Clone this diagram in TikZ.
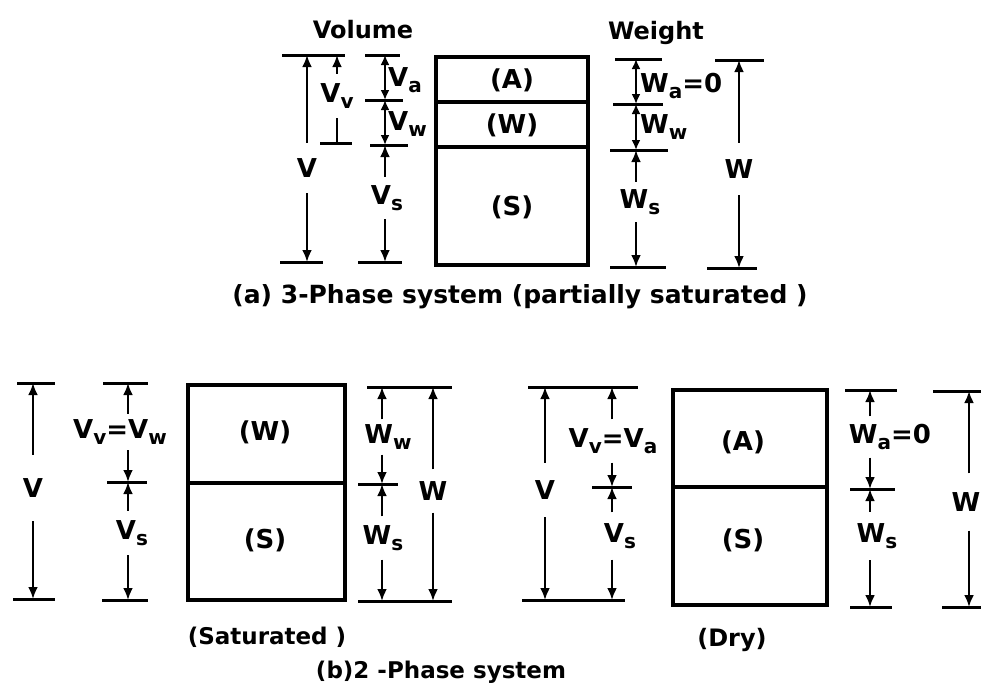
\documentclass[tikz,border=0pt]{standalone}
\usepackage{fontspec}
\setmainfont{DejaVu Sans}
\usetikzlibrary{arrows.meta,positioning}
\newcommand{\lsub}[2]{#1\raisebox{-0.4ex}{\fontsize{20}{20}\selectfont #2}}

\tikzset{
  tick/.style={line width=3pt},
  dimline/.style={line width=2.8pt},
  dimarrow/.style={dimline, -{Latex[length=12pt,width=10pt]}},
  dimboth/.style={dimline, {Latex[length=10pt,width=9pt]}-{Latex[length=10pt,width=9pt]}},
  phase/.style={line width=3.2pt},
  lbl/.style={font=\fontsize{26}{26}\selectfont\bfseries, inner sep=0pt},
  gaplbl/.style={lbl, minimum height=#1},
  gaplbl/.default=48pt,
  capt/.style={font=\fontsize{24}{24}\selectfont\bfseries, inner sep=0pt},
}

\begin{document}
\begin{tikzpicture}[x=1pt,y=-1pt]
\useasboundingbox (0,0) rectangle (981,696);
% (a) three phases
\node[capt] (tvol) at (363,30) {Volume};
\node[capt] (twt) at (656,33) {Weight};
\draw[phase] (436,57) rectangle (588,265);
\draw[phase] (436,102) -- (588,102) (436,147) -- (588,147);
\node[lbl] (pA) at (512,80) {(A)};
\node[lbl] (pW) at (512,125) {(W)};
\node[lbl] (pS) at (512,207) {(S)};
% total volume
\coordinate (vt) at (307,55);
\coordinate (vb) at (307,262);
\draw[tick] (282,55) -- (345,55) (280,262) -- (323,262);
\node[gaplbl=50pt] (lv) at (307,168) {V};
\draw[dimarrow] (lv.north -| vt) -- (vt);
\draw[dimarrow] (lv.south -| vb) -- (vb);
% voids
\coordinate (vvt) at (337,55);
\coordinate (vvb) at (337,143);
\draw[tick] (320,143) -- (352,143);
\node[gaplbl=44pt] (lvv) at (337,96) {\lsub{V}{v}};
\draw[dimarrow] (lvv.north -| vvt) -- (vvt);
\draw[dimline] (lvv.south -| vvb) -- (vvb);
% phase volumes
\coordinate (c1) at (385,55);
\coordinate (c2) at (385,100);
\coordinate (c3) at (385,145);
\coordinate (c4) at (385,262);
\draw[tick] (365,55) -- (400,55) (365,100) -- (403,100) (370,145) -- (408,145) (358,262) -- (402,262);
\draw[dimboth] (c1) -- (c2);
\draw[dimboth] (c2) -- (c3);
\node[lbl, anchor=west] (lva) at (388,80) {\lsub{V}{a}};
\node[lbl, anchor=west] (lvw) at (388,124) {\lsub{V}{w}};
\node[gaplbl=42pt] (lvs) at (387,198) {\lsub{V}{s}};
\draw[dimarrow] (lvs.north -| c3) -- (c3);
\draw[dimarrow] (lvs.south -| c4) -- (c4);
% phase weights
\coordinate (w1) at (636,59);
\coordinate (w2) at (636,104);
\coordinate (w3) at (636,150);
\coordinate (w4) at (636,267);
\draw[tick] (615,59) -- (662,59) (613,104) -- (663,104) (610,150) -- (668,150) (610,267) -- (666,267);
\draw[dimboth] (w1) -- (w2);
\draw[dimboth] (w2) -- (w3);
\node[lbl, anchor=west] (lwa) at (640,86) {\lsub{W}{a}=0};
\node[lbl, anchor=west] (lww) at (640,127) {\lsub{W}{w}};
\node[gaplbl=40pt] (lws) at (640,202) {\lsub{W}{s}};
\draw[dimarrow] (lws.north -| w3) -- (w3);
\draw[dimarrow] (lws.south -| w4) -- (w4);
% total weight
\coordinate (wt) at (739,60);
\coordinate (wb) at (739,268);
\draw[tick] (715,60) -- (764,60) (707,268) -- (757,268);
\node[gaplbl=52pt] (lw) at (739,169) {W};
\draw[dimarrow] (lw.north -| wt) -- (wt);
\draw[dimarrow] (lw.south -| wb) -- (wb);
\node[capt, font=\fontsize{25}{25}\selectfont\bfseries] (capa) at (520,297) {(a) 3-Phase system (partially saturated )};

% (b) saturated
\draw[phase] (188,385) rectangle (345,600);
\draw[phase] (188,483) -- (345,483);
\node[lbl] (sW) at (265,432) {(W)};
\node[lbl] (sS) at (265,540) {(S)};
\coordinate (bvt) at (33,383);
\coordinate (bvb) at (33,599);
\draw[tick] (17,383) -- (55,383) (13,599) -- (55,599);
\node[gaplbl=66pt] (blv) at (33,488) {V};
\draw[dimarrow] (blv.north -| bvt) -- (bvt);
\draw[dimarrow] (blv.south -| bvb) -- (bvb);
\coordinate (bc1) at (128,383);
\coordinate (bc2) at (128,482);
\coordinate (bc3) at (128,600);
\draw[tick] (103,383) -- (148,383) (107,482) -- (147,482) (102,600) -- (148,600);
\node[gaplbl=36pt] (blvv) at (120,432) {\lsub{V}{v}=\lsub{V}{w}};
\draw[dimarrow] (blvv.north -| bc1) -- (bc1);
\draw[dimarrow] (blvv.south -| bc2) -- (bc2);
\node[gaplbl=44pt] (blvs) at (132,533) {\lsub{V}{s}};
\draw[dimarrow] (blvs.north -| bc2) -- (bc2);
\draw[dimarrow] (blvs.south -| bc3) -- (bc3);
\coordinate (bw1) at (382,387);
\coordinate (bw2) at (382,484);
\coordinate (bw3) at (382,601);
\draw[tick] (367,387) -- (452,387) (358,484) -- (398,484) (358,601) -- (452,601);
\node[gaplbl=35pt] (blww) at (388,437) {\lsub{W}{w}};
\draw[dimarrow] (blww.north -| bw1) -- (bw1);
\draw[dimarrow] (blww.south -| bw2) -- (bw2);
\node[gaplbl=43pt] (blws) at (383,538) {\lsub{W}{s}};
\draw[dimarrow] (blws.north -| bw2) -- (bw2);
\draw[dimarrow] (blws.south -| bw3) -- (bw3);
\coordinate (bwt) at (433,387);
\coordinate (bwb) at (433,601);
\node[gaplbl=43pt] (blw) at (433,491) {W};
\draw[dimarrow] (blw.north -| bwt) -- (bwt);
\draw[dimarrow] (blw.south -| bwb) -- (bwb);
\node[capt, font=\fontsize{23}{23}\selectfont\bfseries] (capsat) at (267,637) {(Saturated )};

% (b) dry
\draw[phase] (673,390) rectangle (827,605);
\draw[phase] (673,487) -- (827,487);
\node[lbl] (dA) at (743,442) {(A)};
\node[lbl] (dS) at (743,540) {(S)};
\coordinate (rvt) at (545,387);
\coordinate (rvb) at (545,600);
\draw[tick] (528,387) -- (638,387) (522,600) -- (625,600);
\node[gaplbl=54pt] (rlv) at (545,490) {V};
\draw[dimarrow] (rlv.north -| rvt) -- (rvt);
\draw[dimarrow] (rlv.south -| rvb) -- (rvb);
\coordinate (rc1) at (612,387);
\coordinate (rc2) at (612,487);
\coordinate (rc3) at (612,600);
\draw[tick] (592,487) -- (632,487);
\node[gaplbl=43pt] (rlvv) at (613,441) {\lsub{V}{v}=\lsub{V}{a}};
\draw[dimarrow] (rlvv.north -| rc1) -- (rc1);
\draw[dimarrow] (rlvv.south -| rc2) -- (rc2);
\node[gaplbl=47pt] (rlvs) at (620,536) {\lsub{V}{s}};
\draw[dimarrow] (rlvs.north -| rc2) -- (rc2);
\draw[dimarrow] (rlvs.south -| rc3) -- (rc3);
\coordinate (rw1) at (870,390);
\coordinate (rw2) at (870,489);
\coordinate (rw3) at (870,607);
\draw[tick] (845,390) -- (897,390) (850,489) -- (895,489) (850,607) -- (892,607);
\node[gaplbl=41pt] (rlwa) at (890,437) {\lsub{W}{a}=0};
\draw[dimarrow] (rlwa.north -| rw1) -- (rw1);
\draw[dimarrow] (rlwa.south -| rw2) -- (rw2);
\node[gaplbl=48pt] (rlws) at (877,536) {\lsub{W}{s}};
\draw[dimarrow] (rlws.north -| rw2) -- (rw2);
\draw[dimarrow] (rlws.south -| rw3) -- (rw3);
\coordinate (rwt) at (969,391);
\coordinate (rwb) at (969,607);
\draw[tick] (933,391) -- (985,391) (942,607) -- (985,607);
\node[gaplbl=57pt] (rlw) at (966,502) {W};
\draw[dimarrow] (rlw.north -| rwt) -- (rwt);
\draw[dimarrow] (rlw.south -| rwb) -- (rwb);
\node[capt] (capdry) at (732,640) {(Dry)};
\node[capt, font=\fontsize{23}{23}\selectfont\bfseries] (capb) at (441,672) {(b)2 -Phase system};
\end{tikzpicture}
\end{document}
